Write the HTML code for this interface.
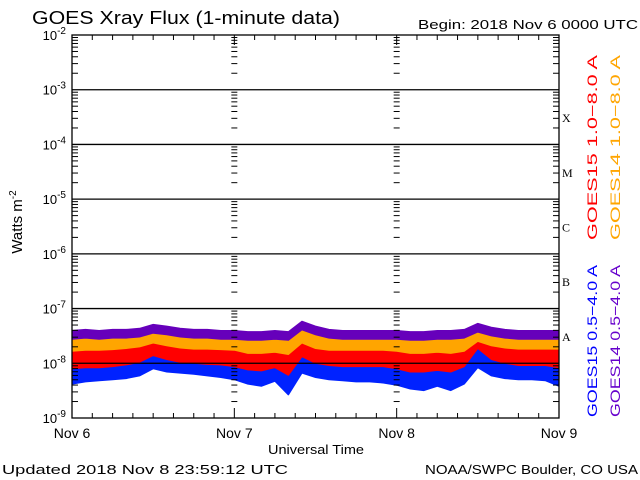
<!DOCTYPE html>
<html><head><meta charset="utf-8"><style>
html,body{margin:0;padding:0;background:#fff;}
svg{display:block;font-family:"Liberation Sans",sans-serif;}
</style></head><body>
<svg id="chart" width="640" height="480" viewBox="0 0 640 480">
<rect width="640" height="480" fill="#fff"/>
<text x="32" y="24" font-size="18" textLength="308" lengthAdjust="spacingAndGlyphs">GOES Xray Flux (1-minute data)</text>
<text x="418" y="29" font-size="13" textLength="220" lengthAdjust="spacingAndGlyphs">Begin:  2018 Nov 6 0000 UTC</text>
<g id="plot"></g>
<text transform="translate(22,222) rotate(-90)" text-anchor="middle" font-size="15">Watts m<tspan dy="-6" font-size="10">-2</tspan></text>
<text x="268" y="454" font-size="13" textLength="96" lengthAdjust="spacingAndGlyphs">Universal Time</text>
<text x="2" y="474" font-size="13" textLength="286" lengthAdjust="spacingAndGlyphs">Updated 2018 Nov  8 23:59:12 UTC</text>
<text x="425" y="474" font-size="13" textLength="213" lengthAdjust="spacingAndGlyphs">NOAA/SWPC Boulder, CO USA</text>
<text transform="translate(597,240) rotate(-90)" font-size="14" textLength="185" lengthAdjust="spacingAndGlyphs" fill="#ff0000">GOES15 1.0−8.0 A</text>
<text transform="translate(620,240) rotate(-90)" font-size="14" textLength="185" lengthAdjust="spacingAndGlyphs" fill="#ffa500">GOES14 1.0−8.0 A</text>
<text transform="translate(597,417) rotate(-90)" font-size="14" textLength="152" lengthAdjust="spacingAndGlyphs" fill="#0000ff">GOES15 0.5−4.0 A</text>
<text transform="translate(620,417) rotate(-90)" font-size="14" textLength="152" lengthAdjust="spacingAndGlyphs" fill="#6600cc">GOES14 0.5−4.0 A</text>
</svg>
<script>
// time in hours from 2018 Nov 6 0000 UTC
const hours = [0,2,4,6,8,10,12,14,16,18,20,22,24,26,28,30,32,34,36,38,40,42,44,46,48,50,52,54,56,58,60,62,64,66,68,70,72];
const dayLabels = ["Nov 6","Nov 7","Nov 8","Nov 9"];
const decadeExps = [-2,-3,-4,-5,-6,-7,-8,-9];
const flareClasses = ["X","M","C","B","A"];
const flareExps = [-4,-5,-6,-7,-8];
// log10 flux (W m^-2), upper / lower envelope of 1-minute data
const g14ShortHi = [-7.40,-7.38,-7.40,-7.38,-7.38,-7.36,-7.29,-7.32,-7.36,-7.38,-7.38,-7.40,-7.40,-7.42,-7.42,-7.40,-7.42,-7.23,-7.32,-7.38,-7.40,-7.40,-7.40,-7.40,-7.40,-7.42,-7.42,-7.40,-7.40,-7.38,-7.27,-7.34,-7.38,-7.40,-7.40,-7.40,-7.40];
const g14ShortLo = [-7.56,-7.54,-7.56,-7.54,-7.54,-7.52,-7.45,-7.48,-7.52,-7.54,-7.54,-7.56,-7.56,-7.58,-7.58,-7.56,-7.58,-7.39,-7.48,-7.54,-7.56,-7.56,-7.56,-7.56,-7.56,-7.58,-7.58,-7.56,-7.56,-7.54,-7.43,-7.50,-7.54,-7.56,-7.56,-7.56,-7.56];
const g14LongHi = [-7.50,-7.49,-7.49,-7.48,-7.47,-7.45,-7.38,-7.42,-7.45,-7.47,-7.47,-7.48,-7.49,-7.52,-7.52,-7.50,-7.53,-7.38,-7.46,-7.48,-7.49,-7.49,-7.49,-7.49,-7.50,-7.53,-7.53,-7.52,-7.52,-7.49,-7.34,-7.42,-7.46,-7.48,-7.48,-7.48,-7.48];
const g14LongLo = [-7.78,-7.76,-7.76,-7.75,-7.73,-7.70,-7.63,-7.68,-7.72,-7.74,-7.74,-7.75,-7.76,-7.82,-7.82,-7.80,-7.84,-7.63,-7.73,-7.76,-7.76,-7.76,-7.76,-7.76,-7.78,-7.82,-7.82,-7.80,-7.82,-7.78,-7.60,-7.68,-7.72,-7.74,-7.74,-7.74,-7.74];
const g15LongHi = [-7.68,-7.66,-7.66,-7.65,-7.63,-7.60,-7.50,-7.56,-7.60,-7.62,-7.63,-7.64,-7.66,-7.70,-7.72,-7.68,-7.78,-7.50,-7.62,-7.64,-7.66,-7.66,-7.66,-7.66,-7.68,-7.72,-7.72,-7.70,-7.72,-7.66,-7.40,-7.55,-7.60,-7.64,-7.64,-7.64,-7.66];
const g15LongLo = [-8.10,-8.08,-8.08,-8.06,-8.03,-7.98,-7.86,-7.93,-7.98,-8.00,-8.02,-8.03,-8.06,-8.12,-8.14,-8.08,-8.22,-7.88,-8.00,-8.04,-8.06,-8.06,-8.06,-8.06,-8.10,-8.16,-8.16,-8.13,-8.16,-8.06,-7.73,-7.93,-8.00,-8.04,-8.04,-8.04,-8.08];
const g15ShortHi = [-8.00,-7.98,-7.98,-7.96,-7.94,-7.90,-7.78,-7.83,-7.86,-7.88,-7.90,-7.92,-7.95,-7.98,-8.00,-7.98,-8.05,-7.70,-7.92,-7.96,-7.98,-7.98,-7.98,-7.98,-8.02,-8.06,-8.06,-8.04,-8.08,-7.98,-7.60,-7.85,-7.92,-7.94,-7.94,-7.94,-7.98];
const g15ShortLo = [-8.38,-8.34,-8.32,-8.30,-8.28,-8.23,-8.10,-8.16,-8.18,-8.20,-8.23,-8.26,-8.30,-8.38,-8.42,-8.33,-8.58,-8.18,-8.26,-8.30,-8.32,-8.34,-8.34,-8.36,-8.40,-8.47,-8.50,-8.42,-8.50,-8.38,-8.08,-8.23,-8.28,-8.30,-8.30,-8.32,-8.42];

const NS="http://www.w3.org/2000/svg";
const X0=72,X1=559,Y0=35,Y1=418,EMAX=-2,EMIN=-9;
const xS=h=>X0+(X1-X0)*h/72;
const yS=e=>Y0+(Y1-Y0)*(EMAX-e)/(EMAX-EMIN);
const plot=document.getElementById('plot');
function mk(tag,attrs,parent){const el=document.createElementNS(NS,tag);for(const k in attrs)el.setAttribute(k,attrs[k]);(parent||plot).appendChild(el);return el;}

// data bands
const series=[[g15ShortHi,g15ShortLo,'#0022ff','series-goes15-short'],[g15LongHi,g15LongLo,'#ff0000','series-goes15-long'],[g14LongHi,g14LongLo,'#ffa500','series-goes14-long'],[g14ShortHi,g14ShortLo,'#6600bb','series-goes14-short']];
series.forEach(([hi,lo,c,name])=>{
  let pts=hours.map((h,i)=>xS(h).toFixed(1)+','+yS(hi[i]).toFixed(1));
  for(let i=hours.length-1;i>=0;i--)pts.push(xS(hours[i]).toFixed(1)+','+yS(lo[i]).toFixed(1));
  const p=mk('polygon',{points:pts.join(' '),fill:c,stroke:c,'stroke-width':'1','stroke-linejoin':'bevel'});
  
  
});

// decade lines and labels
decadeExps.forEach(e=>{
  const y=yS(e);
  if(e<EMAX&&e>EMIN){const l=mk('line',{x1:X0,x2:X1,y1:y,y2:y,stroke:'#000','stroke-width':1.3});
    
    }
  const t=mk('text',{x:X0-6,y:y+5,'text-anchor':'end','font-size':13});
  
  
  t.innerHTML='10<tspan dy="-6" font-size="10">'+e+'</tspan>';
  if(e>EMIN){for(let m=2;m<=9;m++){const ym=yS(e-1+Math.log10(m));
    [[X0,X0+6],[X1-6,X1],[xS(24)-3,xS(24)+3],[xS(48)-3,xS(48)+3]].forEach(([a,b])=>mk('line',{x1:a,x2:b,y1:ym,y2:ym,stroke:'#000','stroke-width':1}));}}
});
// x ticks
for(let h=0;h<=72;h+=3){const x=xS(h),len=(h%24===0)?10:5;
  mk('line',{x1:x,x2:x,y1:Y1,y2:Y1-len,stroke:'#000','stroke-width':1});
  mk('line',{x1:x,x2:x,y1:Y0,y2:Y0+len,stroke:'#000','stroke-width':1});}
dayLabels.forEach((d,i)=>{const t=mk('text',{x:xS(i*24),y:438,'text-anchor':'middle','font-size':14});
  
  
  t.textContent=d;});
// flare class letters
flareClasses.forEach((c,i)=>{const t=mk('text',{x:X1+3,y:yS(flareExps[i]+0.5)+5,'font-size':12,'font-family':'Liberation Serif, serif'});
  
  
  t.textContent=c;});
// frame
const f=mk('rect',{x:X0,y:Y0,width:X1-X0,height:Y1-Y0,fill:'none',stroke:'#000','stroke-width':1.3});


</script>
</body></html>
